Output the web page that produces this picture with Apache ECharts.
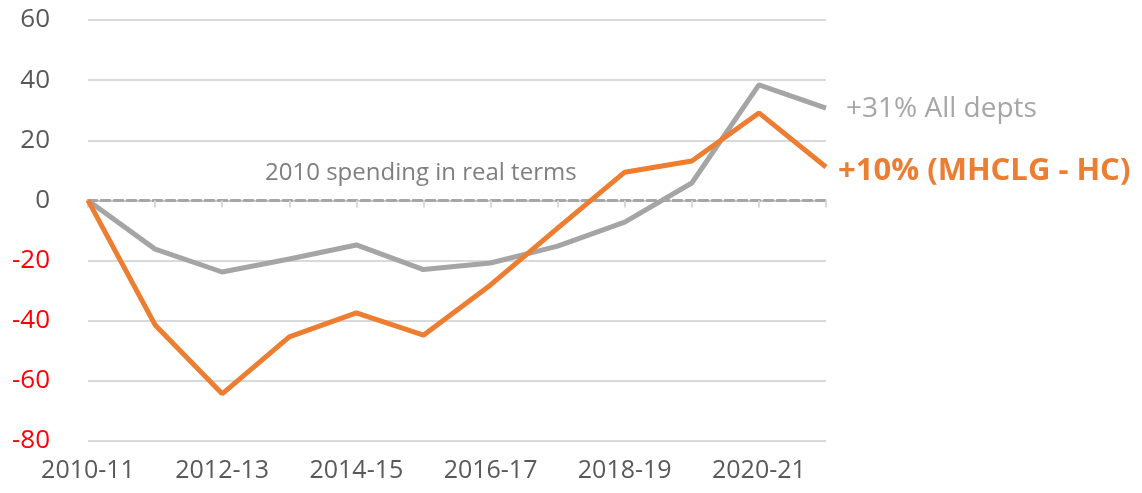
<!DOCTYPE html>
<html>
<head>
<meta charset="utf-8">
<script src="https://cdn.jsdelivr.net/npm/echarts@6/dist/echarts.min.js"></script>
<style>
html,body{margin:0;padding:0;background:#fff;}
#chart{width:1142px;height:493px;}
</style>
</head>
<body>
<div id="chart"></div>
<script>
const categories = ["2010-11","2011-12","2012-13","2013-14","2014-15","2015-16","2016-17","2017-18","2018-19","2019-20","2020-21","2021-22"];
const allDepts = [0,-16.2,-23.8,-19.5,-14.8,-23,-20.8,-15.2,-7.2,5.8,38.4,30.7];
const mhclg = [0,-41.4,-64.3,-45.4,-37.4,-44.8,-28.1,-9.2,9.4,13.1,29.1,11.1];
const yTicks = {min:-80, max:60, interval:20};
const labelAll = "+31% All depts";
const labelMhclg = "+10% (MHCLG - HC)";
const refLabel = "2010 spending in real terms";

const FONT = "'Open Sans', 'Liberation Sans', Arial, sans-serif";
const chart = echarts.init(document.getElementById('chart'));
chart.setOption({
  animation:false,
  grid:{left:88,right:316,top:20,bottom:52},
  xAxis:[{
    type:'category', data:categories, boundaryGap:false, position:'bottom',
    axisLine:{show:true,onZero:true,lineStyle:{color:'#a6a6a6',width:3,type:[9,4]}},
    axisTick:{show:true,length:7,alignWithLabel:true,lineStyle:{color:'#d9d9d9',width:2}},
    axisLabel:{show:false}, splitLine:{show:false}
  },{
    type:'category', data:categories, boundaryGap:false, position:'bottom',
    axisLine:{show:false,onZero:false}, axisTick:{show:false},
    axisLabel:{show:true,interval:1,color:'#595959',fontSize:25,fontFamily:FONT,margin:17}
  }],
  yAxis:{
    type:'value', min:yTicks.min, max:yTicks.max, interval:yTicks.interval,
    axisLine:{show:false}, axisTick:{show:false},
    splitLine:{lineStyle:{color:'#d9d9d9',width:2}},
    axisLabel:{fontSize:26,fontFamily:FONT,margin:38,
      color:function(v){return Number(v)<0?'#ff0000':'#595959';}}
  },
  series:[{
    type:'line', data:allDepts, xAxisIndex:0, symbol:'none',
    lineStyle:{color:'#a5a5a5',width:5}, itemStyle:{color:'#a5a5a5'},
    endLabel:{show:true,formatter:labelAll,color:'#a6a6a6',fontSize:28,fontFamily:FONT,distance:20,offset:[0,1]},
    z:3
  },{
    type:'line', data:mhclg, xAxisIndex:0, symbol:'none',
    lineStyle:{color:'#ed7d31',width:5}, itemStyle:{color:'#ed7d31'},
    endLabel:{show:true,formatter:labelMhclg,color:'#ed7d31',fontSize:31,fontWeight:'bold',fontFamily:FONT,distance:12,offset:[0,4]},
    z:4
  }],
  graphic:[{
    type:'text', x:265, y:173,
    style:{text:refLabel,fill:'#7f7f7f',font:"24px "+FONT,verticalAlign:'middle'}
  }]
});
</script>
</body>
</html>
